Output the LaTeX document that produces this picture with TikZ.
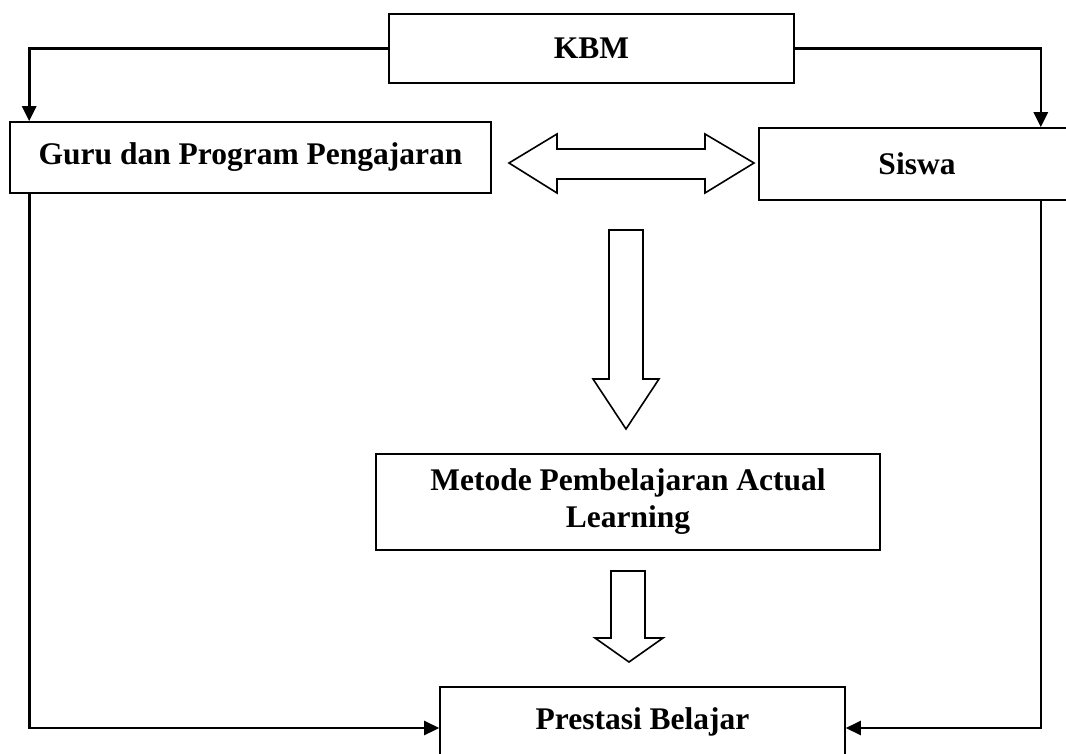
\documentclass[tikz,border=0pt]{standalone}
\usepackage{fontspec}
\setmainfont{Liberation Serif}
\usetikzlibrary{arrows.meta,calc}
\begin{document}
\begin{tikzpicture}[x=1pt,y=1pt,
  box/.style={draw,line width=1.6pt,inner sep=0pt,align=center,
    font=\fontsize{31.5}{37}\selectfont\bfseries},
  conn/.style={line width=2.6pt,-{Triangle[length=15pt,width=14pt]}},
  blockarrow/.style={draw,line width=1.6pt,fill=white,line join=miter}]
\useasboundingbox (0,0) rectangle (1066,-754);
% boxes
\node[box,minimum width=405pt,minimum height=69pt] (kbm) at (591.5,-48.5) {KBM};
\node[box,minimum width=481pt,minimum height=71pt] (guru) at (250.5,-157.5) {Guru dan Program Pengajaran};
\node[box,minimum width=316pt,minimum height=72pt] (siswa) at (917,-164) {Siswa};
\node[box,minimum width=504pt,minimum height=96pt] (metode) at (628,-502) {Metode Pembelajaran Actual\\Learning};
\node[box,minimum width=405pt,minimum height=69pt] (prestasi) at (642.5,-721.5) {Prestasi Belajar};
% connectors
\draw[conn] (kbm.west) -| ([xshift=20pt]guru.north west);
\draw[conn] (kbm.east) -| ([xshift=-35pt]siswa.north east);
\draw[conn] ([xshift=20pt]guru.south west) |- ([yshift=-6.5pt]prestasi.west);
\draw[conn] ([xshift=-35pt]siswa.south east) |- ([yshift=-6.5pt]prestasi.east);
% block arrows
\draw[blockarrow] (509,-163) -- (557,-134) -- (557,-149) -- (705,-149) -- (705,-134) -- (754,-163)
  -- (705,-193) -- (705,-179) -- (557,-179) -- (557,-193) -- cycle;
\draw[blockarrow] (609,-230) -- (643,-230) -- (643,-379) -- (659,-379) -- (626,-429)
  -- (593,-379) -- (609,-379) -- cycle;
\draw[blockarrow] (611,-571) -- (645,-571) -- (645,-638) -- (663,-638) -- (629,-662)
  -- (595,-638) -- (611,-638) -- cycle;
\end{tikzpicture}
\end{document}
